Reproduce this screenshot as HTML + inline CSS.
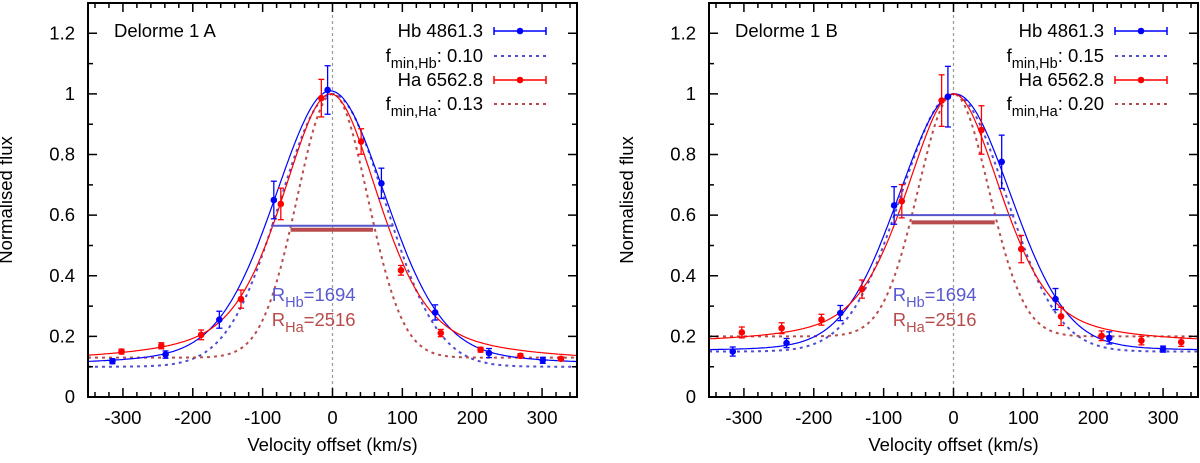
<!DOCTYPE html>
<html><head><meta charset="utf-8">
<style>
html,body{margin:0;padding:0;background:#fff;}
svg text{font-family:"Liberation Sans",sans-serif;}
</style></head>
<body>
<svg id="chart" width="1200" height="458" viewBox="0 0 1200 458" xmlns="http://www.w3.org/2000/svg"></svg>
<script>
// Panel A data
const hbVelA = [-315, -239, -162, -84, -7, 70, 147, 224, 301];
const hbFluxA = [0.118, 0.140, 0.255, 0.650, 1.013, 0.705, 0.279, 0.145, 0.121];
const hbErrA = [0.008, 0.012, 0.028, 0.062, 0.080, 0.050, 0.025, 0.015, 0.010];
const haVelA = [-302, -245, -188, -131, -74, -16, 41, 98, 155, 212, 269, 327];
const haFluxA = [0.150, 0.169, 0.205, 0.323, 0.637, 0.986, 0.843, 0.418, 0.211, 0.156, 0.136, 0.126];
const haErrA = [0.008, 0.010, 0.016, 0.030, 0.052, 0.062, 0.042, 0.016, 0.012, 0.008, 0.007, 0.006];
// Panel B data
const hbVelB = [-316, -239, -162, -85, -8, 69, 146, 223, 300];
const hbFluxB = [0.150, 0.178, 0.277, 0.632, 0.991, 0.776, 0.323, 0.195, 0.158];
const hbErrB = [0.015, 0.015, 0.025, 0.062, 0.100, 0.088, 0.035, 0.020, 0.010];
const haVelB = [-303, -246, -189, -131, -74, -17, 40, 97, 154, 212, 269, 326];
const haFluxB = [0.213, 0.227, 0.255, 0.356, 0.646, 0.978, 0.881, 0.488, 0.266, 0.202, 0.186, 0.181];
const haErrB = [0.018, 0.018, 0.018, 0.030, 0.055, 0.085, 0.080, 0.045, 0.030, 0.016, 0.014, 0.014];
// Fit parameters [baseline, amplitude, centre, gaussSigma, lorentzGamma, lorentzFraction]
const hbFitA = [0.10, 0.91, -3, 80, 100, 0.25];
const haFitA = [0.11, 0.89, -3, 68, 90, 0.50];
const hbFitB = [0.15, 0.85, 2, 80, 100, 0.10];
const haFitB = [0.17, 0.83, 0, 68, 85, 0.47];
// Instrument profiles (fmin, resolving power)
const fminA = [0.10, 0.13];
const fminB = [0.15, 0.20];
const resolvingPower = [1694, 2516];
// FWHM bars: [level, vStart, vEnd]
const barsA = [[0.565, -88, 87], [0.552, -60, 58]];
const barsB = [[0.600, -85, 87], [0.576, -60, 59]];
const xTicks = [-300, -200, -100, 0, 100, 200, 300];
const yTicks = [0, 0.2, 0.4, 0.6, 0.8, 1, 1.2];
const yTickLabels = ["0", "0.2", "0.4", "0.6", "0.8", "1", "1.2"];

const NS = "http://www.w3.org/2000/svg";
const svg = document.getElementById("chart");
function mk(tag, attrs, parent) {
  const e = document.createElementNS(NS, tag);
  for (const k in attrs) e.setAttribute(k, attrs[k]);
  (parent || svg).appendChild(e);
  return e;
}
const BLUE = "#0000ff", RED = "#ff0000", DBLUE = "#4f4fd0", DRED = "#b84c4c";
const FS = 18.5;

function pv(p, v) {
  const x = v - p[2];
  const g = Math.exp(-x * x / (2 * p[3] * p[3]));
  const l = 1 / (1 + (x / p[4]) * (x / p[4]));
  return p[0] + p[1] * ((1 - p[5]) * g + p[5] * l);
}
function inst(fmin, R, v) {
  const s = 299792 / R / 2.3548;
  return fmin + (1 - fmin) * Math.exp(-v * v / (2 * s * s));
}

function panel(cfg) {
  const L = cfg.left, Rr = cfg.right, T = 3, B = 397;
  const X = v => L + (v + 350) / 700 * (Rr - L);
  const Y = f => B - f / 1.3 * (B - T);
  const g = mk("g", {});
  
  
  const zl = mk("line", {x1: X(0), x2: X(0), y1: T, y2: B, stroke: "#999", "stroke-width": 1.2, "stroke-dasharray": "3,3"}, g);
  
  
  const cid = "clip" + cfg.name;
  const cp = mk("clipPath", {id: cid}, g);
  mk("rect", {x: L, y: T, width: Rr - L, height: B - T}, cp);
  const cg = mk("g", {"clip-path": "url(#" + cid + ")"}, g);
  function curve(fn, color, dash, w, name) {
    let d = "";
    for (let v = -350; v <= 350; v += 2) d += (v === -350 ? "M" : "L") + X(v).toFixed(1) + "," + Y(fn(v)).toFixed(1);
    const p = mk("path", {d: d, fill: "none", stroke: color, "stroke-width": w}, cg);
    if (dash) p.setAttribute("stroke-dasharray", dash);
    
    
  }
  curve(v => inst(cfg.fmin[0], resolvingPower[0], v), DBLUE, "3,4", 2, "hb-instrument-profile");
  curve(v => inst(cfg.fmin[1], resolvingPower[1], v), DRED, "3,4", 2, "ha-instrument-profile");
  curve(v => pv(cfg.hbFit, v), BLUE, null, 1.2, "hb-fit-line");
  curve(v => pv(cfg.haFit, v), RED, null, 1.2, "ha-fit-line");
  const b1 = mk("line", {x1: X(cfg.bars[0][1]), x2: X(cfg.bars[0][2]), y1: Y(cfg.bars[0][0]), y2: Y(cfg.bars[0][0]), stroke: "#5555cc", "stroke-width": 2}, g);
  
  
  const b2 = mk("line", {x1: X(cfg.bars[1][1]), x2: X(cfg.bars[1][2]), y1: Y(cfg.bars[1][0]), y2: Y(cfg.bars[1][0]), stroke: DRED, "stroke-width": 4}, g);
  
  
  function pts(vs, fs, es, color, name) {
    for (let i = 0; i < vs.length; i++) {
      const x = X(vs[i]), y = Y(fs[i]), e1 = Y(fs[i] + es[i]), e2 = Y(fs[i] - es[i]);
      const pg = mk("g", {}, g);
      
      
      mk("line", {x1: x, x2: x, y1: e1, y2: e2, stroke: color, "stroke-width": 1.3}, pg);
      mk("line", {x1: x - 3, x2: x + 3, y1: e1, y2: e1, stroke: color, "stroke-width": 1.3}, pg);
      mk("line", {x1: x - 3, x2: x + 3, y1: e2, y2: e2, stroke: color, "stroke-width": 1.3}, pg);
      mk("circle", {cx: x, cy: y, r: 3.3, fill: color}, pg);
    }
  }
  pts(cfg.hbV, cfg.hbF, cfg.hbE, BLUE, "hb-data-point");
  pts(cfg.haV, cfg.haF, cfg.haE, RED, "ha-data-point");
  const fr = mk("rect", {x: L, y: T, width: Rr - L, height: B - T, fill: "none", stroke: "#000", "stroke-width": 2}, g);
  
  
  let td = "";
  for (let v = -340; v <= 340; v += 20) {
    const major = v % 100 === 0, len = major ? 9 : 5, x = X(v);
    td += `M${x},${B}v${-len}M${x},${T}v${len}`;
  }
  for (let k = 1; k <= 12; k++) {
    const f = k / 10, major = k % 2 === 0, len = major ? 9 : 5, y = Y(f);
    td += `M${L},${y}h${len}M${Rr},${y}h${-len}`;
  }
  mk("path", {d: td, stroke: "#000", "stroke-width": 1.5, fill: "none"}, g);
  xTicks.forEach(v => {
    const t = mk("text", {x: X(v), y: 424, "font-size": FS, "text-anchor": "middle"}, g);
    t.textContent = String(v);
    
    
  });
  yTicks.forEach((f, i) => {
    const t = mk("text", {x: L - 13, y: Y(f) + 6, "font-size": FS, "text-anchor": "end"}, g);
    t.textContent = yTickLabels[i];
    
    
  });
  const xt = mk("text", {x: (L + Rr) / 2, y: 451, "font-size": FS, "text-anchor": "middle"}, g);
  xt.textContent = "Velocity offset (km/s)";
  
  
  const yx = L - 76, yy = (T + B) / 2;
  const yt = mk("text", {x: yx, y: yy, "font-size": FS, "text-anchor": "middle", transform: `rotate(-90 ${yx} ${yy})`}, g);
  yt.textContent = "Normalised flux";
  
  
  const tt = mk("text", {x: L + 26, y: 37, "font-size": FS}, g);
  tt.textContent = cfg.title;
  
  
  const tx = Rr - 94, lx1 = Rr - 83, lx2 = Rr - 31;
  const rows = [
    {y: 31, html: "Hb 4861.3", color: BLUE, kind: "pt"},
    {y: 56, sub: "min,Hb", val: ": " + cfg.fmin[0].toFixed(2), color: DBLUE, kind: "dash"},
    {y: 80, html: "Ha 6562.8", color: RED, kind: "pt"},
    {y: 104, sub: "min,Ha", val: ": " + cfg.fmin[1].toFixed(2), color: DRED, kind: "dash"}
  ];
  rows.forEach(r => {
    const lg = mk("g", {}, g);
    
    
    const t = mk("text", {x: tx, y: r.y + 6, "font-size": FS, "text-anchor": "end"}, lg);
    if (r.html) t.textContent = r.html;
    else {
      const a = mk("tspan", {}, t); a.textContent = "f";
      const b = mk("tspan", {dy: 6, "font-size": 14.5}, t); b.textContent = r.sub;
      const c = mk("tspan", {dy: -6}, t); c.textContent = r.val;
    }
    if (r.kind === "pt") {
      mk("line", {x1: lx1, x2: lx2, y1: r.y, y2: r.y, stroke: r.color, "stroke-width": 1.5}, lg);
      mk("line", {x1: lx1, x2: lx1, y1: r.y - 4, y2: r.y + 4, stroke: r.color, "stroke-width": 1.5}, lg);
      mk("line", {x1: lx2, x2: lx2, y1: r.y - 4, y2: r.y + 4, stroke: r.color, "stroke-width": 1.5}, lg);
      mk("circle", {cx: (lx1 + lx2) / 2, cy: r.y, r: 3.3, fill: r.color}, lg);
    } else {
      mk("line", {x1: lx1, x2: lx2, y1: r.y, y2: r.y, stroke: r.color, "stroke-width": 2, "stroke-dasharray": "3,4"}, lg);
    }
  });
  [[0, "Hb", "#5a5ad0", 301], [1, "Ha", DRED, 326]].forEach(a => {
    const t = mk("text", {x: X(-87), y: a[3], "font-size": FS, fill: a[2]}, g);
    const p1 = mk("tspan", {}, t); p1.textContent = "R";
    const p2 = mk("tspan", {dy: 6, "font-size": 14.5}, t); p2.textContent = a[1];
    const p3 = mk("tspan", {dy: -6}, t); p3.textContent = "=" + resolvingPower[a[0]];
    
    
  });
}

panel({name: "panel-delorme-1a", title: "Delorme 1 A", left: 88, right: 577,
  hbV: hbVelA, hbF: hbFluxA, hbE: hbErrA, haV: haVelA, haF: haFluxA, haE: haErrA,
  hbFit: hbFitA, haFit: haFitA, fmin: fminA, bars: barsA});
panel({name: "panel-delorme-1b", title: "Delorme 1 B", left: 709, right: 1198,
  hbV: hbVelB, hbF: hbFluxB, hbE: hbErrB, haV: haVelB, haF: haFluxB, haE: haErrB,
  hbFit: hbFitB, haFit: haFitB, fmin: fminB, bars: barsB});
</script>
</body></html>
